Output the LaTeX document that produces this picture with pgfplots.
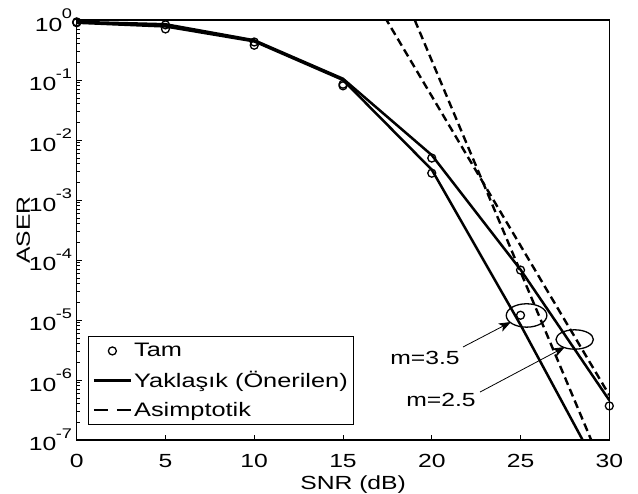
\documentclass[border=0pt]{standalone}
\usepackage{fontspec}
\setmainfont{Liberation Sans}[FakeStretch=1.3]
\usepackage{pgfplots}
\pgfplotsset{compat=1.18}
\usetikzlibrary{arrows.meta}
\pgfplotsset{dashleg/.style={legend image code/.code={\draw[##1, dash pattern=on 14bp off 9bp] (0bp,0bp) -- (37bp,0bp);}}}
\newcommand{\tenp}[1]{10\hspace{-0.5bp}\raisebox{12.5bp}{\fontsize{14bp}{14bp}\selectfont #1}}
\begin{document}
\begin{tikzpicture}[font=\fontsize{19bp}{23bp}\selectfont]
\begin{axis}[
  scale only axis, width=532.6bp, height=420bp,
  xmin=0, xmax=30, ymin=1e-7, ymax=1, ymode=log,
  /pgf/number format/assume math mode=true,
  xtick={0,5,10,15,20,25,30},
  ytick={1e-7,1e-6,1e-5,1e-4,1e-3,1e-2,1e-1,1},
  yticklabels={\tenp{-7},\tenp{-6},\tenp{-5},\tenp{-4},\tenp{-3},\tenp{-2},\tenp{-1},\tenp{0}},
  minor ytick={2e-7,3e-7,4e-7,5e-7,6e-7,7e-7,8e-7,9e-7,
               2e-6,3e-6,4e-6,5e-6,6e-6,7e-6,8e-6,9e-6,
               2e-5,3e-5,4e-5,5e-5,6e-5,7e-5,8e-5,9e-5,
               2e-4,3e-4,4e-4,5e-4,6e-4,7e-4,8e-4,9e-4,
               2e-3,3e-3,4e-3,5e-3,6e-3,7e-3,8e-3,9e-3,
               2e-2,3e-2,4e-2,5e-2,6e-2,7e-2,8e-2,9e-2,
               2e-1,3e-1,4e-1,5e-1,6e-1,7e-1,8e-1,9e-1},
  tick align=inside, xtick pos=left, ytick pos=left,
  major tick length=5bp, minor tick length=3bp,
  every tick/.style={black, line width=0.8bp},
  axis line style={line width=1.3bp},
  clip mode=individual,
  xticklabel style={anchor=base, yshift=-27bp, inner sep=0pt},
  yticklabel style={anchor=east, inner sep=0pt, xshift=-4.5bp},
  xlabel={SNR (dB)},
  xlabel style={at={(axis description cs:0.519,0)}, anchor=base, yshift=-49bp, inner sep=0pt},
  ylabel={ASER},
  ylabel style={at={(axis description cs:-0.1,0.5)}, anchor=center, inner sep=0pt},
  legend cell align=left,
  legend image code/.code={\draw[mark repeat=2,mark phase=2,#1] plot coordinates {(0bp,0bp) (18.5bp,0bp) (37bp,0bp)};},
  legend style={at={(rel axis cs:0.0212,0.248)}, anchor=north west, draw=black, line width=1.3bp,
     inner xsep=4bp, inner ysep=5bp, row sep=9bp,
     font=\fontsize{19.5bp}{23bp}\selectfont},
]
% m = 2.5
\addplot[only marks, mark=o, mark size=4bp, mark options={line width=1.3bp}] coordinates {
 (0,0.93) (5,0.83) (10,0.43) (15,0.085) (20,5.0e-3) (25,6.8e-5) (30,3.7e-7)};
\addlegendentry{Tam}
\addplot[black, line width=2.5bp] coordinates {
 (0,0.93) (5,0.85) (10,0.46) (15,0.105) (20,5.6e-3) (25,6.9e-5) (30,4.6e-7)};
\addlegendentry{Yaklaşık (Önerilen)\hspace{7bp}}
\addplot[black, line width=2.4bp, dash pattern=on 8bp off 4.5bp, dashleg] coordinates {
 (17,1.68) (30,5.6e-7)};
\addlegendentry{Asimptotik}
% m = 3.5
\addplot[forget plot, only marks, mark=o, mark size=4bp, mark options={line width=1.3bp}] coordinates {
 (0,0.90) (5,0.71) (10,0.38) (15,0.08) (20,2.8e-3) (25,1.2e-5)};
\addplot[forget plot, black, line width=2.5bp] coordinates {
 (0,0.90) (5,0.78) (10,0.44) (15,0.10) (20,3.2e-3) (25,8.3e-6) (30,1.5e-8)};
\addplot[forget plot, black, line width=2.4bp, dash pattern=on 8bp off 4.5bp] coordinates {
 (18.5,2.4) (30,1.92e-8)};
% annotations
\draw[line width=1.3bp] (axis cs:25.34,1.19e-5) ellipse [x radius=20.3bp, y radius=11.7bp];
\draw[line width=1.3bp] (axis cs:28.05,4.73e-6) ellipse [x radius=18.7bp, y radius=9.7bp];
\draw[line width=0.8bp, -{Stealth[length=12bp, width=9bp, inset=3bp]}] (axis cs:21.76,3.55e-6) -- (axis cs:24.46,9.26e-6);
\draw[line width=0.8bp, -{Stealth[length=12bp, width=9bp, inset=3bp]}] (axis cs:22.72,6.3e-7) -- (axis cs:27.5,3.55e-6);
\node at (axis cs:19.62,2.33e-6) {m=3.5};
\node at (axis cs:20.52,4.64e-7) {m=2.5};
\end{axis}
\pgfresetboundingbox
\path ([shift={(-76.7bp,-54bp)}]current axis.south west) rectangle ([shift={(28.7bp,20bp)}]current axis.north east);
\end{tikzpicture}
\end{document}
